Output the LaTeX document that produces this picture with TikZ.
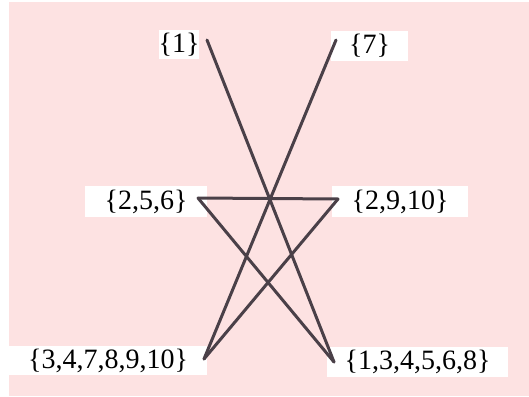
\documentclass[tikz,border=0pt]{standalone}
\usepackage{fontspec}
\setmainfont{Liberation Serif}
\definecolor{bgpink}{RGB}{253,226,226}
\definecolor{linec}{RGB}{74,64,72}
\begin{document}
\begin{tikzpicture}[x=1pt,y=-1pt,
  setbox/.style={fill=white, inner sep=0pt, font=\fontsize{28}{28}\selectfont, anchor=center},
  edge/.style={draw=linec, line width=3pt, line cap=round}]
\useasboundingbox (0,0) rectangle (529,396);
\fill[bgpink] (9,2) rectangle (529,396);
% label boxes
\node[setbox, minimum width=38pt, minimum height=29pt] (s1) at (179,44.5) {\{1\}};
\node[setbox, minimum width=77pt, minimum height=30pt] (s7) at (369.5,46) {\{7\}};
\node[setbox, minimum width=122pt, minimum height=31pt] (s256) at (146,201.5) {\{2,5,6\}};
\node[setbox, minimum width=136pt, minimum height=31pt] (s2910) at (400,201.5) {\{2,9,10\}};
\node[setbox, minimum width=198pt, minimum height=29pt] (sL) at (108,360.5) {\{3,4,7,8,9,10\}};
\node[setbox, minimum width=181pt, minimum height=30pt] (sR) at (417.5,362) {\{1,3,4,5,6,8\}};
% line end points
\coordinate (p1) at (207,40);
\coordinate (p7) at (336,40);
\coordinate (p256) at (198,198);
\coordinate (p2910) at (338,199);
\coordinate (pL) at (204,359);
\coordinate (pR) at (334,362);
\draw[edge] (p1) -- (pR);
\draw[edge] (p7) -- (pL);
\draw[edge] (p256) -- (p2910);
\draw[edge] (p256) -- (pR);
\draw[edge] (p2910) -- (pL);
\end{tikzpicture}
\end{document}
